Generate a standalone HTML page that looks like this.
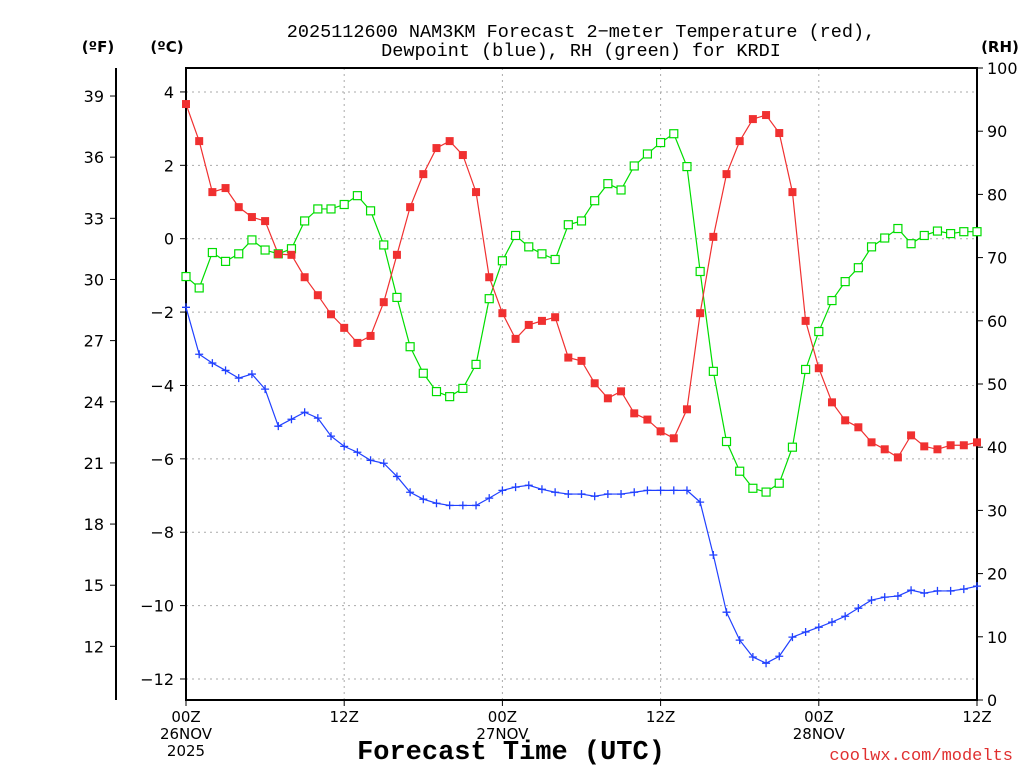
<!DOCTYPE html>
<html><head><meta charset="utf-8"><style>
body{margin:0;background:#fff;}
svg{font-family:"DejaVu Sans","Liberation Sans",sans-serif;}
.mono{font-family:"Liberation Mono","DejaVu Sans Mono",monospace;}
</style></head><body>
<svg id="c" width="1024" height="768" xmlns="http://www.w3.org/2000/svg">
<text class="mono" x="581" y="37" font-size="18.5" text-anchor="middle">2025112600 NAM3KM Forecast 2−meter Temperature (red),</text>
<text class="mono" x="581" y="56" font-size="18.5" text-anchor="middle">Dewpoint (blue), RH (green) for KRDI</text>
<text x="98" y="52" font-size="15" font-weight="bold" text-anchor="middle">(ºF)</text>
<text x="167" y="52" font-size="15" font-weight="bold" text-anchor="middle">(ºC)</text>
<text x="1000" y="52" font-size="15" font-weight="bold" text-anchor="middle">(RH)</text>
<text class="mono" x="511" y="759" font-size="27" font-weight="bold" text-anchor="middle">Forecast Time (UTC)</text>
<text class="mono" x="1013" y="760" font-size="17" fill="#e03030" text-anchor="end">coolwx.com/modelts</text>
<g id="grid"></g><g id="axes"></g><g id="series"></g>
</svg>
<script>
const hours=[...Array(61).keys()];
const tempC=[3.67,2.66,1.27,1.38,0.86,0.59,0.48,-0.42,-0.44,-1.05,-1.54,-2.06,-2.43,-2.84,-2.65,-1.73,-0.44,0.86,1.76,2.47,2.66,2.28,1.27,-1.05,-2.03,-2.73,-2.35,-2.24,-2.14,-3.24,-3.33,-3.94,-4.35,-4.16,-4.76,-4.93,-5.25,-5.44,-4.65,-2.03,0.05,1.76,2.66,3.26,3.37,2.88,1.27,-2.24,-3.53,-4.46,-4.95,-5.14,-5.55,-5.74,-5.96,-5.36,-5.66,-5.74,-5.63,-5.63,-5.55];
const dewC=[-1.87,-3.15,-3.39,-3.59,-3.80,-3.69,-4.10,-5.11,-4.92,-4.73,-4.89,-5.38,-5.66,-5.82,-6.04,-6.12,-6.48,-6.91,-7.10,-7.21,-7.27,-7.27,-7.27,-7.07,-6.86,-6.77,-6.72,-6.83,-6.91,-6.96,-6.96,-7.02,-6.96,-6.96,-6.91,-6.86,-6.86,-6.86,-6.86,-7.18,-8.62,-10.18,-10.94,-11.40,-11.57,-11.38,-10.86,-10.72,-10.59,-10.45,-10.29,-10.07,-9.85,-9.77,-9.74,-9.58,-9.66,-9.60,-9.60,-9.55,-9.47];
const rh=[67.0,65.2,70.8,69.4,70.6,72.8,71.2,70.6,71.4,75.8,77.7,77.7,78.4,79.8,77.4,72.0,63.7,55.9,51.7,48.8,48.0,49.3,53.1,63.5,69.5,73.5,71.7,70.6,69.7,75.2,75.8,79.0,81.7,80.7,84.5,86.4,88.2,89.6,84.4,67.8,52.0,40.9,36.2,33.5,32.9,34.3,40.0,52.3,58.3,63.2,66.2,68.4,71.7,73.1,74.6,72.2,73.5,74.2,73.8,74.1,74.1];
const cTicks=[4,2,0,-2,-4,-6,-8,-10,-12];
const fTicks=[39,36,33,30,27,24,21,18,15,12];
const rhTicks=[0,10,20,30,40,50,60,70,80,90,100];
const xTickHours=[0,12,24,36,48,60];
const xTickLabels=[["00Z","26NOV","2025"],["12Z"],["00Z","27NOV"],["12Z"],["00Z","28NOV"],["12Z"]];

const L=186,R=977,T=68,B=700;
const xS=h=>L+(R-L)*h/60;
const yC=c=>238.7-c*36.69;
const yF=f=>yC((f-32)/1.8);
const yRH=r=>B-(B-T)*r/100;
const NS="http://www.w3.org/2000/svg";
function mk(tag,attrs,parent){const e=document.createElementNS(NS,tag);for(const k in attrs)e.setAttribute(k,attrs[k]);parent.appendChild(e);return e;}
const grid=document.getElementById('grid'),axes=document.getElementById('axes'),ser=document.getElementById('series');

cTicks.forEach(c=>{const y=yC(c);
 const g=mk('line',{x1:L,x2:R,y1:y,y2:y,stroke:'#aaa','stroke-dasharray':'2,4'},grid);
 
 
 mk('line',{x1:L-6,x2:L,y1:y,y2:y,stroke:'#000'},axes);
 const t=mk('text',{x:L-12,y:y+6,'font-size':16,'text-anchor':'end'},axes);t.textContent=String(c).replace('-','−');
 
 
});
xTickHours.forEach((h,i)=>{const x=xS(h);
 if(h>0&&h<60){const g=mk('line',{x1:x,x2:x,y1:T,y2:B,stroke:'#aaa','stroke-dasharray':'2,4'},grid);
 
 }
 mk('line',{x1:x,x2:x,y1:B,y2:B+6,stroke:'#000'},axes);
 xTickLabels[i].forEach((s,j)=>{const t=mk('text',{x:x,y:B+22+j*17,'font-size':15,'text-anchor':'middle'},axes);t.textContent=s;
 
 });
});
fTicks.forEach(f=>{const y=yF(f);
 mk('line',{x1:110,x2:116,y1:y,y2:y,stroke:'#000'},axes);
 const t=mk('text',{x:104,y:y+6,'font-size':16,'text-anchor':'end'},axes);t.textContent=f;
 
 
});
rhTicks.forEach(r=>{const y=yRH(r);
 mk('line',{x1:R,x2:R+6,y1:y,y2:y,stroke:'#000'},axes);
 const t=mk('text',{x:R+10,y:y+6,'font-size':16,'text-anchor':'start'},axes);t.textContent=r;
 
 
});
const fa=mk('line',{x1:116,x2:116,y1:T,y2:B,stroke:'#000','stroke-width':2},axes);


const box=mk('rect',{x:L,y:T,width:R-L,height:B-T,fill:'none',stroke:'#000','stroke-width':2},axes);



function line(vals,ys,color,name){
 const pts=vals.map((v,i)=>xS(hours[i])+','+ys(v)).join(' ');
 const p=mk('polyline',{points:pts,fill:'none',stroke:color,'stroke-width':1.2},ser);
 
 
}
line(rh,yRH,'#00dd00','rh');
line(tempC,yC,'#f03030','temperature');
line(dewC,yC,'#2040ff','dewpoint');
rh.forEach((v,i)=>{const m=mk('rect',{x:xS(hours[i])-4,y:yRH(v)-4,width:8,height:8,fill:'#fff',stroke:'#00dd00','stroke-width':1.2},ser);
 
 });
tempC.forEach((v,i)=>{const m=mk('rect',{x:xS(hours[i])-4,y:yC(v)-4,width:8,height:8,fill:'#f03030'},ser);
 
 });
dewC.forEach((v,i)=>{const x=xS(hours[i]),y=yC(v);
 const m=mk('path',{d:`M${x-4},${y}H${x+4}M${x},${y-4}V${y+4}`,stroke:'#2040ff','stroke-width':1.3},ser);
 
 });
</script>
</body></html>
